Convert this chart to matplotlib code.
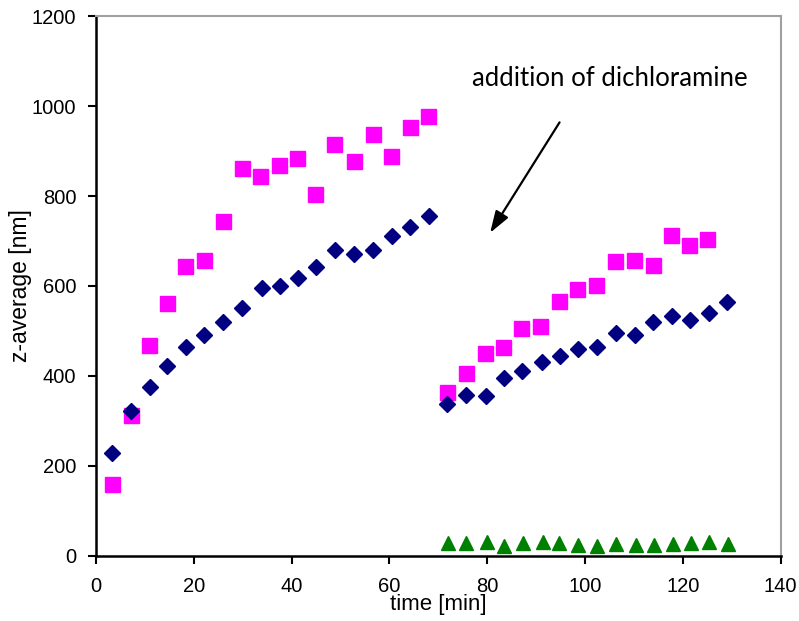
import matplotlib.pyplot as plt

plt.rcParams['font.family'] = ['Liberation Sans', 'DejaVu Sans']

# blue diamonds, before and after addition
t_blue = [3.3, 7.1, 11.0, 14.6, 18.4, 22.2, 26.0, 29.9, 33.9, 37.7, 41.3, 45.1, 48.9, 52.8, 56.6, 60.5, 64.3, 68.1,
          71.8, 75.7, 79.7, 83.4, 87.2, 91.3, 94.8, 98.6, 102.4, 106.3, 110.2, 114.0, 117.8, 121.4, 125.3, 129.1]
z_blue = [228, 321, 375, 422, 464, 490, 519, 550, 596, 600, 618, 642, 680, 671, 681, 712, 732, 756,
          338, 358, 356, 395, 410, 430, 444, 460, 464, 496, 490, 519, 533, 525, 539, 564]

# magenta squares
t_pink = [3.2, 7.1, 10.8, 14.5, 18.2, 22.1, 25.9, 29.8, 33.6, 37.5, 41.2, 44.9, 48.7, 52.7, 56.6, 60.4, 64.2, 67.9,
          71.8, 75.6, 79.5, 83.3, 87.0, 90.9, 94.6, 98.4, 102.3, 106.1, 110.0, 113.9, 117.6, 121.2, 125.0]
z_pink = [160, 312, 468, 562, 644, 657, 744, 863, 844, 870, 884, 804, 916, 879, 938, 890, 954, 979,
          365, 407, 450, 464, 506, 510, 567, 593, 603, 656, 657, 647, 713, 692, 704]

# green triangles
t_green = [72.0, 75.7, 79.9, 83.4, 87.3, 91.4, 94.7, 98.6, 102.5, 106.3, 110.4, 114.1, 117.9, 121.7, 125.4, 129.2]
z_green = [28, 28, 30, 22, 28, 30, 28, 25, 22, 26, 25, 24, 27, 29, 30, 27]

fig = plt.figure(figsize=(7.99, 6.21), dpi=100)
ax = fig.add_axes([0.12, 0.105, 0.857, 0.869])

ax.plot(t_pink, z_pink, 's', color='#FF00FF', markersize=10.8, linestyle='none')
ax.plot(t_blue, z_blue, 'D', color='#000080', markersize=8.6, linestyle='none')
ax.plot(t_green, z_green, '^', color='#008000', markersize=10.5, linestyle='none')

ax.annotate('', xy=(80.3, 713), xytext=(95.1, 969),
            arrowprops=dict(arrowstyle='-|>,head_length=0.6,head_width=0.2', color='black',
                            lw=1.6, mutation_scale=22))
ax.text(77.0, 1062, 'addition of dichloramine', fontsize=18.5, va='center', ha='left',
        family=['Lato', 'DejaVu Sans'])

ax.set_xlim(0, 140)
ax.set_ylim(0, 1200)
ax.set_xticks(range(0, 141, 20))
ax.set_yticks(range(0, 1201, 200))
ax.tick_params(labelsize=14.5, direction='out', length=6, width=1.5)
ax.tick_params(axis='x', pad=9)
ax.tick_params(axis='y', pad=8)
ax.set_xlabel('time [min]', fontsize=16, labelpad=-1)
ax.set_ylabel('z-average [nm]', fontsize=16.5, labelpad=0)

for s in ['left', 'bottom']:
    ax.spines[s].set_linewidth(1.8)
for s in ['top', 'right']:
    ax.spines[s].set_color('#a0a0a0')
    ax.spines[s].set_linewidth(1.5)

fig.savefig('out.png', dpi=100)
